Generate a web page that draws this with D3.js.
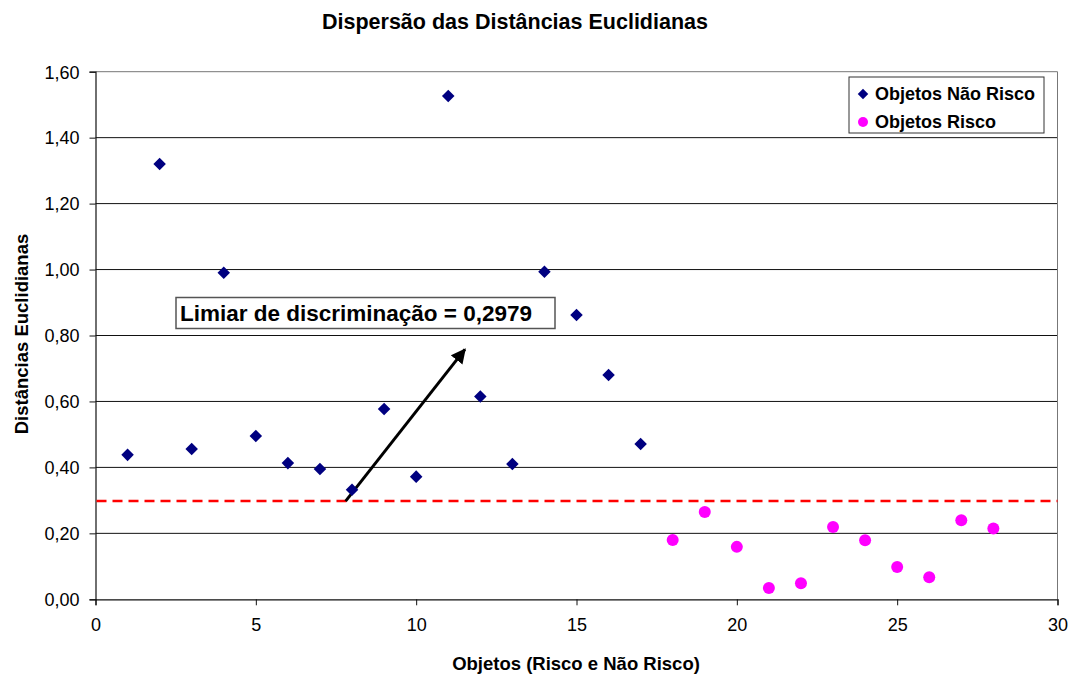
<!DOCTYPE html>
<html>
<head>
<meta charset="utf-8">
<script src="https://cdn.jsdelivr.net/npm/d3@7"></script>
<style>
  html, body { margin: 0; padding: 0; background: #fff; }
  svg { display: block; font-family: Arial, "Liberation Sans", sans-serif; }
</style>
</head>
<body>
<svg id="chart" width="1079" height="677"></svg>
<script>
// Object index for the two groups
const naoRiscoX = [1, 2, 3, 4, 5, 6, 7, 8, 9, 10, 11, 12, 13, 14, 15, 16, 17];
const naoRiscoY = [0.438, 1.320, 0.456, 0.990, 0.495, 0.413, 0.395, 0.332, 0.577, 0.372, 1.526, 0.615, 0.410, 0.993, 0.862, 0.680, 0.471];
const riscoX = [18, 19, 20, 21, 22, 23, 24, 25, 26, 27, 28];
const riscoY = [0.180, 0.265, 0.159, 0.034, 0.049, 0.219, 0.179, 0.098, 0.067, 0.240, 0.215];

const limiar = 0.2979;
const xTicks = [0, 5, 10, 15, 20, 25, 30];
const yTicks = [0, 0.2, 0.4, 0.6, 0.8, 1.0, 1.2, 1.4, 1.6];

// Arrow annotation, data coordinates: [x, y] start and end
const arrowFrom = [7.8, limiar];
const arrowTo = [11.52, 0.758];

const svg = d3.select("#chart");
const x = d3.scaleLinear().domain([0, 30]).range([95.5, 1057.5]);
const y = d3.scaleLinear().domain([0, 1.6]).range([599.3, 71.7]);
const fmt = v => d3.format(".2f")(v).replace(".", ",");

// Title
svg.append("text")
  .attr("x", 515).attr("y", 29)
  .attr("text-anchor", "middle")
  .attr("font-size", 21.5).attr("font-weight", "bold")
  .text("Dispersão das Distâncias Euclidianas");

// Horizontal gridlines
svg.append("g").selectAll("line")
  .data(yTicks.filter(v => v > 0))
  .join("line")
  .attr("x1", x(0)).attr("x2", x(30))
  .attr("y1", d => y(d)).attr("y2", d => y(d))
  .attr("stroke", d => d === 1.6 ? "#777" : "#111")
  .attr("stroke-width", 1);

// Right frame of plot area
svg.append("line")
  .attr("x1", x(30)).attr("x2", x(30))
  .attr("y1", y(1.6)).attr("y2", y(0))
  .attr("stroke", "#777").attr("stroke-width", 1);

// Axes
const xAxis = svg.append("g")
  .attr("transform", `translate(0,${y(0)})`)
  .call(d3.axisBottom(x).tickValues(xTicks).tickSize(6).tickPadding(13).tickFormat(d3.format("d")));
const yAxis = svg.append("g")
  .attr("transform", `translate(${x(0)},0)`)
  .call(d3.axisLeft(y).tickValues(yTicks).tickSize(6).tickPadding(10).tickFormat(fmt));
[xAxis, yAxis].forEach(a => {
  a.select(".domain").attr("stroke", "#111").attr("stroke-width", 1.2);
  a.selectAll(".tick line").attr("stroke", "#111");
  a.selectAll("text").attr("font-size", 18).attr("fill", "#000")
    .attr("font-family", "Arial, 'Liberation Sans', sans-serif");
});
yAxis.selectAll("text").attr("dy", "0.35em");

// Axis titles
svg.append("text")
  .attr("x", 576).attr("y", 670)
  .attr("text-anchor", "middle")
  .attr("font-size", 18.5).attr("font-weight", "bold")
  .text("Objetos (Risco e Não Risco)");
svg.append("text")
  .attr("transform", "translate(28,334) rotate(-90)")
  .attr("text-anchor", "middle")
  .attr("font-size", 18.5).attr("font-weight", "bold")
  .text("Distâncias Euclidianas");

// Threshold line
svg.append("line")
  .attr("x1", x(0) + 1).attr("x2", x(30))
  .attr("y1", y(limiar)).attr("y2", y(limiar))
  .attr("stroke", "#ff0000").attr("stroke-width", 2.5)
  .attr("stroke-dasharray", "10,6");

// Arrow
svg.append("defs").append("marker")
  .attr("id", "head").attr("viewBox", "0 0 10 10")
  .attr("refX", 9).attr("refY", 5)
  .attr("markerWidth", 5).attr("markerHeight", 5)
  .attr("orient", "auto")
  .append("path").attr("d", "M0,0 L10,5 L0,10 Z").attr("fill", "#000");
svg.append("line")
  .attr("x1", x(arrowFrom[0])).attr("y1", y(arrowFrom[1]))
  .attr("x2", x(arrowTo[0])).attr("y2", y(arrowTo[1]))
  .attr("stroke", "#000").attr("stroke-width", 3)
  .attr("marker-end", "url(#head)");

// Threshold label box
const lbl = svg.append("g");
lbl.append("rect")
  .attr("x", 176).attr("y", 297.5).attr("width", 379).attr("height", 31)
  .attr("fill", "#fff").attr("stroke", "#555").attr("stroke-width", 1.5);
lbl.append("text")
  .attr("x", 180).attr("y", 321)
  .attr("font-size", 22.5).attr("font-weight", "bold")
  .text("Limiar de discriminação = 0,2979");

// Points
const diamond = d3.symbol().type(d3.symbolDiamond2).size(100);
svg.append("g").selectAll("path")
  .data(naoRiscoX.map((v, i) => [v, naoRiscoY[i]]))
  .join("path")
  .attr("d", diamond)
  .attr("transform", d => `translate(${x(d[0])},${y(d[1])})`)
  .attr("fill", "#000080");
svg.append("g").selectAll("circle")
  .data(riscoX.map((v, i) => [v, riscoY[i]]))
  .join("circle")
  .attr("cx", d => x(d[0])).attr("cy", d => y(d[1]))
  .attr("r", 6)
  .attr("fill", "#ff00ff");

// Legend
const lg = svg.append("g");
lg.append("rect")
  .attr("x", 849).attr("y", 77).attr("width", 195).attr("height", 56)
  .attr("fill", "#fff").attr("stroke", "#333").attr("stroke-width", 1);
lg.append("path")
  .attr("d", d3.symbol().type(d3.symbolDiamond2).size(70))
  .attr("transform", "translate(863,94)")
  .attr("fill", "#000080");
lg.append("circle").attr("cx", 863).attr("cy", 122).attr("r", 5).attr("fill", "#ff00ff");
lg.append("text").attr("x", 875).attr("y", 100)
  .attr("font-size", 18).attr("font-weight", "bold").text("Objetos Não Risco");
lg.append("text").attr("x", 875).attr("y", 128)
  .attr("font-size", 18).attr("font-weight", "bold").text("Objetos Risco");
</script>
</body>
</html>
